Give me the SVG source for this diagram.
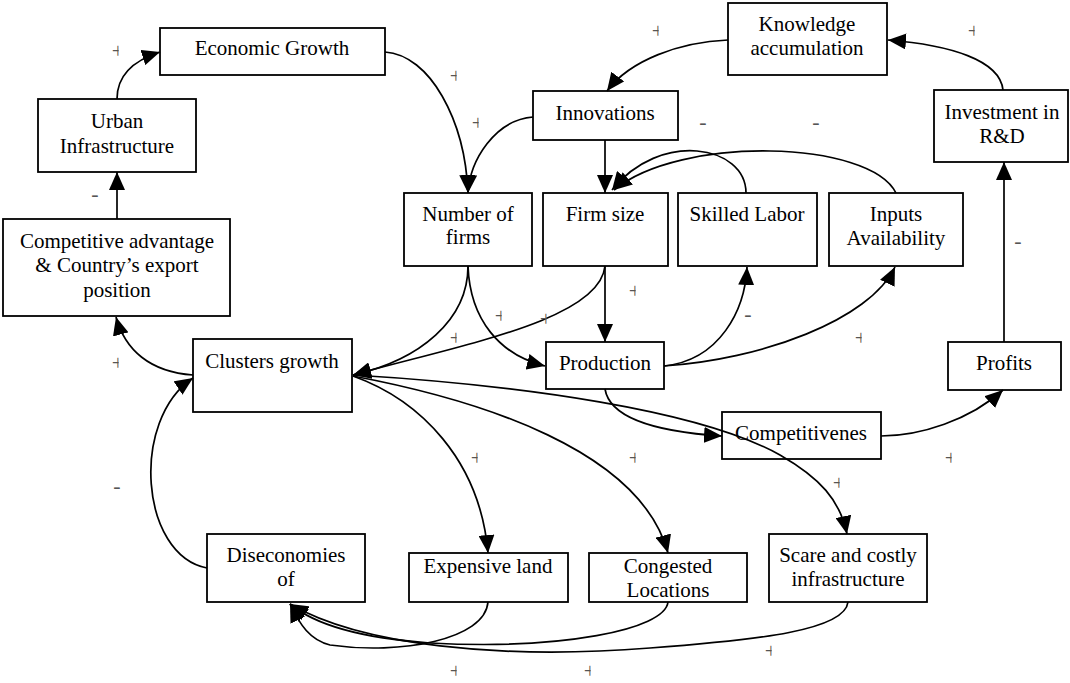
<svg xmlns="http://www.w3.org/2000/svg" width="1070" height="683" viewBox="0 0 1070 683">
<style>
.box{fill:#fff;stroke:#000;stroke-width:1.8}
.t{font-family:"Liberation Serif","Times New Roman",serif;font-size:21px;text-anchor:middle;fill:#000}
.e{fill:none;stroke:#000;stroke-width:1.7;marker-end:url(#ah)}
.p{font-family:"Liberation Serif",serif;font-size:22px;text-anchor:middle;fill:#555;clip-path:url(#half)}
.m{font-family:"Liberation Serif",serif;font-size:22px;text-anchor:middle;fill:#555}
</style>
<defs>
<marker id="ah" viewBox="0 0 18 16" refX="18" refY="8" markerWidth="18" markerHeight="16" orient="auto" markerUnits="userSpaceOnUse">
<path d="M0,0 L18,8 L0,16 z" fill="#000"/>
</marker>
<clipPath id="half" clipPathUnits="objectBoundingBox"><rect x="0" y="0" width="0.56" height="1"/></clipPath>
</defs>
<rect width="1070" height="683" fill="#fff"/>
<g id="n-econ"><rect class="box" x="160" y="28" width="225" height="47"/><text class="t" x="272" y="55">Economic Growth</text></g>
<g id="n-urban"><rect class="box" x="38" y="99" width="158" height="73"/><text class="t" x="117" y="128">Urban</text><text class="t" x="117" y="153">Infrastructure</text></g>
<g id="n-comp"><rect class="box" x="3" y="219" width="227" height="97"/><text class="t" x="117" y="248">Competitive advantage</text><text class="t" x="117" y="272">&amp; Country’s export</text><text class="t" x="117" y="297">position</text></g>
<g id="n-innov"><rect class="box" x="533" y="91" width="145" height="49"/><text class="t" x="605" y="120">Innovations</text></g>
<g id="n-know"><rect class="box" x="728" y="3" width="159" height="72"/><text class="t" x="807" y="31">Knowledge</text><text class="t" x="807" y="55">accumulation</text></g>
<g id="n-invest"><rect class="box" x="934" y="90" width="134" height="72"/><text class="t" x="1002" y="119">Investment in</text><text class="t" x="1002" y="143">R&amp;D</text></g>
<g id="n-nfirms"><rect class="box" x="404" y="193" width="128" height="73"/><text class="t" x="468" y="221">Number of</text><text class="t" x="468" y="244">firms</text></g>
<g id="n-fsize"><rect class="box" x="543" y="193" width="125" height="73"/><text class="t" x="605" y="221">Firm size</text></g>
<g id="n-skilled"><rect class="box" x="678" y="193" width="139" height="73"/><text class="t" x="747" y="221">Skilled Labor</text></g>
<g id="n-inputs"><rect class="box" x="829" y="193" width="134" height="73"/><text class="t" x="896" y="221">Inputs</text><text class="t" x="896" y="245">Availability</text></g>
<g id="n-prod"><rect class="box" x="546" y="342" width="118" height="47"/><text class="t" x="605" y="370">Production</text></g>
<g id="n-clusters"><rect class="box" x="193" y="339" width="159" height="73"/><text class="t" x="272" y="368">Clusters growth</text></g>
<g id="n-profits"><rect class="box" x="948" y="342" width="113" height="48"/><text class="t" x="1004" y="370">Profits</text></g>
<g id="n-competit"><rect class="box" x="722" y="412" width="159" height="47"/><text class="t" x="801" y="440">Competitivenes</text></g>
<g id="n-disecon"><rect class="box" x="207" y="534" width="158" height="68"/><text class="t" x="286" y="562">Diseconomies</text><text class="t" x="286" y="586">of</text></g>
<g id="n-land"><rect class="box" x="409" y="553" width="159" height="49"/><text class="t" x="488" y="573">Expensive land</text></g>
<g id="n-congest"><rect class="box" x="589" y="553" width="158" height="49"/><text class="t" x="668" y="573">Congested</text><text class="t" x="668" y="597">Locations</text></g>
<g id="n-scare"><rect class="box" x="769" y="534" width="158" height="68"/><text class="t" x="848" y="562">Scare and costly</text><text class="t" x="848" y="586">infrastructure</text></g>
<g id="connectors">
<path class="e" d="M117,99 C117,75 135,60 160,52"/>
<path class="e" d="M117,219 L117,172"/>
<path class="e" d="M385,52 C430,55 465,120 468,193"/>
<path class="e" d="M533,117 C495,120 470,160 468,193"/>
<path class="e" d="M605,140 L605,193"/>
<path class="e" d="M728,40 C680,42 630,60 607,91"/>
<path class="e" d="M1003,90 C1000,60 950,45 888,40"/>
<path class="e" d="M1004,342 L1004,162"/>
<path class="e" d="M746,193 C746,145 660,130 612,190"/>
<path class="e" d="M896,193 C870,140 680,135 614,190"/>
<path class="e" d="M605,266 L605,342"/>
<path class="e" d="M468,266 C468,320 420,360 353,375"/>
<path class="e" d="M468,266 C470,320 500,355 545,366"/>
<path class="e" d="M605,266 C600,320 460,345 353,375"/>
<path class="e" d="M664,366 C720,360 745,310 747,267"/>
<path class="e" d="M664,366 C760,360 870,320 895,267"/>
<path class="e" d="M605,389 C610,420 660,432 722,436"/>
<path class="e" d="M881,436 C920,436 970,420 1003,390"/>
<path class="e" d="M353,375 C520,385 700,410 780,455 C820,478 840,500 847,534"/>
<path class="e" d="M353,376 C420,400 480,460 488,553"/>
<path class="e" d="M353,376 C480,400 640,450 668,553"/>
<path class="e" d="M193,375 C150,372 125,350 116,317"/>
<path class="e" d="M207,568 C140,555 130,420 193,378"/>
<path class="e" d="M488,602 C485,640 400,655 330,645 C310,640 300,625 290,604"/>
<path class="e" d="M668,602 C665,630 560,650 430,643 C360,638 315,625 290,604"/>
<path class="e" d="M848,602 C845,630 760,640 650,648 C500,660 360,645 290,604"/>
</g>
<g id="signs">
<text class="p" x="118" y="58">+</text>
<text class="m" x="95" y="201">-</text>
<text class="p" x="658" y="38">+</text>
<text class="p" x="456" y="83">+</text>
<text class="p" x="478" y="130">+</text>
<text class="m" x="703" y="129">-</text>
<text class="p" x="974" y="38">+</text>
<text class="m" x="816" y="129">-</text>
<text class="p" x="118" y="370">+</text>
<text class="p" x="635" y="298">+</text>
<text class="p" x="501" y="323">+</text>
<text class="p" x="546" y="326">+</text>
<text class="p" x="456" y="345">+</text>
<text class="p" x="477" y="465">+</text>
<text class="p" x="635" y="465">+</text>
<text class="m" x="1018" y="248">-</text>
<text class="m" x="748" y="321">-</text>
<text class="p" x="861" y="345">+</text>
<text class="p" x="951" y="465">+</text>
<text class="m" x="117" y="493">-</text>
<text class="p" x="456" y="678">+</text>
<text class="p" x="590" y="678">+</text>
<text class="p" x="839" y="490">+</text>
<text class="p" x="771" y="658">+</text>
</g>
</svg>
